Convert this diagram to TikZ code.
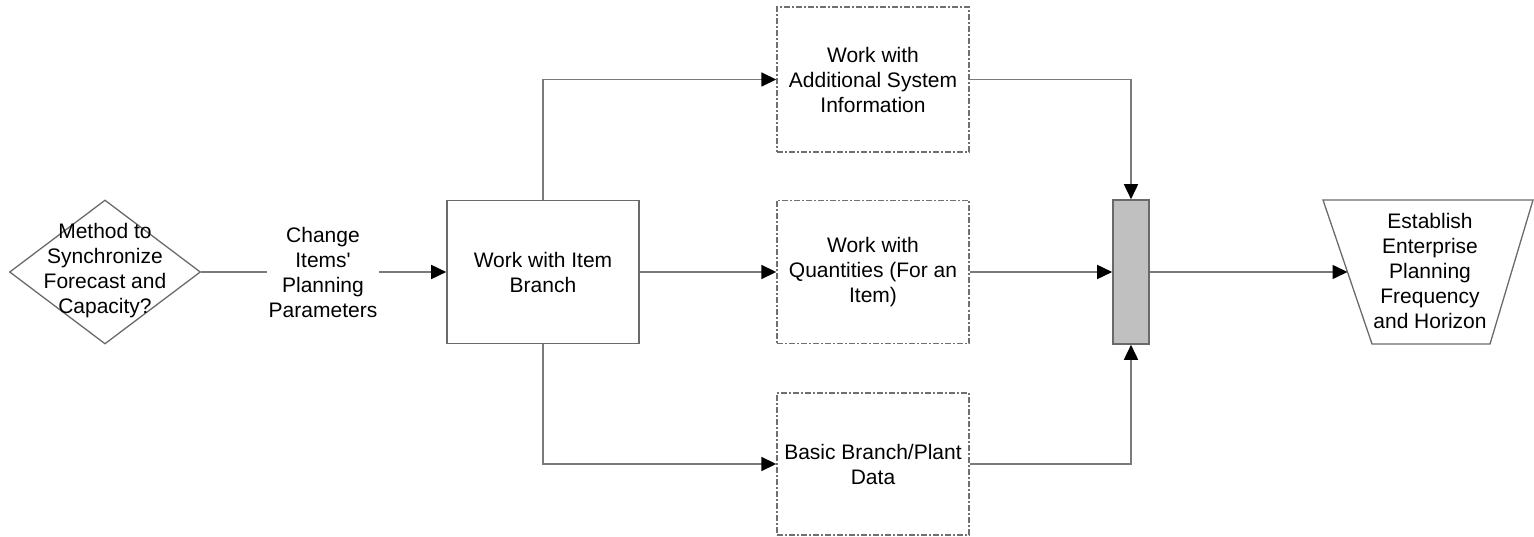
\documentclass[tikz,border=0pt]{standalone}
\usepackage{fontspec}
\setmainfont{Liberation Sans}
\usetikzlibrary{arrows.meta,shapes.geometric}
\definecolor{linegray}{HTML}{7A7A7A}
\definecolor{boxgray}{HTML}{6A6A6A}
\definecolor{dashgray}{HTML}{707070}
\definecolor{barfill}{HTML}{C0C0C0}
\begin{document}
\begin{tikzpicture}[x=1pt,y=-1pt,
  every node/.style={font=\fontsize{21}{25}\selectfont, align=center},
  conn/.style={draw=linegray, line width=1.6pt},
  arr/.style={conn, -{Triangle[length=15pt,width=14pt,black]}},
  solidbox/.style={draw=boxgray, line width=1.6pt, minimum width=192pt, minimum height=143pt, inner sep=0pt},
  dashbox/.style={draw=dashgray, line width=1.4pt, dash pattern=on 6pt off 2pt on 2pt off 2pt, minimum width=192pt, minimum height=143pt, inner sep=0pt},
  dia/.style={shape=diamond, draw=boxgray, line width=1.3pt, minimum width=191pt, minimum height=144pt, inner sep=0pt},
  barbox/.style={draw=boxgray, line width=1.6pt, fill=barfill, minimum width=36pt, minimum height=144pt, inner sep=0pt},
  trapline/.style={draw=boxgray, line width=1.3pt},
  lblnode/.style={fill=white, inner sep=2pt}
]
\useasboundingbox (0,0) rectangle (1534,537);

\node[dia] (dia) at (105,272) {};
\node (diat) at (105,271) {Method to\\Synchronize\\Forecast and\\Capacity?};

\node[lblnode] (lbl) at (323,272) {Change\\Items\textquotesingle\\Planning\\Parameters};

\node[solidbox] (ib) at (543,272) {Work with Item\\Branch};

\node[dashbox, minimum height=145pt] (top) at (873,79.5) {Work with\\Additional System\\Information};
\node[dashbox] (mid) at (873,272) {Work with\\Quantities (For an\\Item)};
\node[dashbox, minimum height=142pt] (bot) at (873,464) {Basic Branch/Plant\\Data};

\node[barbox] (bar) at (1131,272) {};

\draw[trapline] (1323,200) -- (1533,200) -- (1490,344) -- (1372,344) -- cycle;
\coordinate (trapin) at (1347.5,272);
\node (trapt) at (1430,271) {Establish\\Enterprise\\Planning\\Frequency\\and Horizon};

\draw[conn] (dia.east) -- (lbl.west);
\draw[arr] (lbl.east) -- (ib.west);
\draw[arr] (ib.north) |- (top.west);
\draw[arr] (ib.east) -- (mid.west);
\draw[arr] (ib.south) |- (bot.west);
\draw[arr] (top.east) -| (bar.north);
\draw[arr] (mid.east) -- (bar.west);
\draw[arr] (bot.east) -| (bar.south);
\draw[arr] (bar.east) -- (trapin);
\end{tikzpicture}
\end{document}
